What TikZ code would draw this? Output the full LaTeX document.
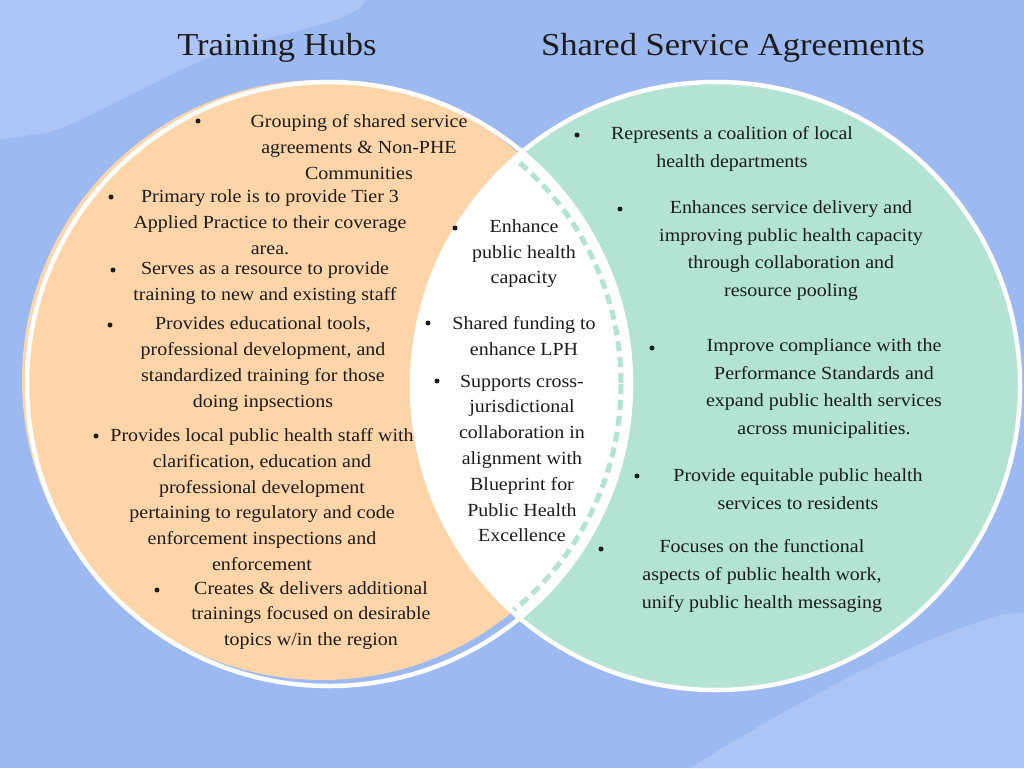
\documentclass[tikz,border=0pt]{standalone}
\usepackage{fontspec}
\setmainfont{Liberation Serif}[FakeStretch=1.08]

\definecolor{bgblue}{HTML}{9DB9F2}
\definecolor{bglight}{HTML}{ADC4F6}
\definecolor{hubfill}{HTML}{FED5A8}
\definecolor{ssafill}{HTML}{B3E3D2}
\definecolor{inktext}{HTML}{1C1C1C}

\tikzset{
  ring/.style={draw=white, line width=4.5pt},
  hubtxt/.style={align=center, text=inktext, inner sep=0pt, font=\fontsize{18.5}{25.8}\selectfont},
  ssatxt/.style={hubtxt, font=\fontsize{18.5}{27.8}\selectfont},
  dot/.style={circle, fill=inktext, inner sep=0pt, minimum size=5pt},
  heading/.style={text=inktext, inner sep=0pt, font=\fontsize{32}{38}\selectfont}
}

\begin{document}
\begin{tikzpicture}[x=1pt, y=-1pt]
    % Background
    \fill[bgblue] (0,0) rectangle (1024,768);
    \useasboundingbox (0,0) rectangle (1024,768);
    \fill[bglight] (0,0) -- (365,0) .. controls (362,18) and (300,30) .. (240,45)
        .. controls (170,70) and (100,115) .. (50,132) -- (0,140) -- cycle;
    \fill[bglight] (690,768) .. controls (800,700) and (900,645) .. (1000,615) -- (1024,612) -- (1024,768) -- cycle;

    % Circles
    \fill[ssafill] (716,386) circle (302);
    \fill[hubfill] (322,380) circle (300);
    \begin{scope}
        \clip (716,386) circle (304);
        \fill[white] (329,384) circle (302);
        \draw[ssafill, line width=5pt, dash pattern=on 10pt off 6pt] (329,384) circle (292);
    \end{scope}
    \draw[ring] (329,384) circle (302);
    \draw[ring] (716,386) circle (304);

    % Headings
    \node[heading] (hubs) at (277,48) {Training Hubs};
    \node[heading] (ssa) at (733,48) {Shared Service Agreements};

    % Training Hubs
    \node[hubtxt] (grouping) at (359,147) {Grouping of shared service\\agreements \& Non-PHE\\Communities};
    \node[dot] (grouping-dot) at (198,121) {};
    \node[hubtxt] (tier) at (270,222.3) {Primary role is to provide Tier 3\\Applied Practice to their coverage\\area.};
    \node[dot] (tier-dot) at (111,197) {};
    \node[hubtxt] (resource) at (265,283) {Serves as a resource to provide\\training to new and existing staff};
    \node[dot] (resource-dot) at (113,270) {};
    \node[hubtxt] (tools) at (263,364) {Provides educational tools,\\professional development, and\\standardized training for those\\doing inpsections};
    \node[dot] (tools-dot) at (110,325) {};
    \node[hubtxt] (staff) at (262,499.5) {Provides local public health staff with\\clarification, education and\\professional development\\pertaining to regulatory and code\\enforcement inspections and\\enforcement};
    \node[dot] (staff-dot) at (96,436) {};
    \node[hubtxt] (creates) at (311,615.5) {Creates \& delivers additional\\trainings focused on desirable\\topics w/in the region};
    \node[dot] (creates-dot) at (157,590) {};

    % Shared
    \node[hubtxt] (capacity) at (524,253.7) {Enhance\\public health\\capacity};
    \node[dot] (capacity-dot) at (455,228) {};
    \node[hubtxt] (funding) at (524,336) {Shared funding to\\enhance LPH};
    \node[dot] (funding-dot) at (428,323) {};
    \node[hubtxt] (cross) at (522,458.5) {Supports cross-\\jurisdictional\\collaboration in\\alignment with\\Blueprint for\\Public Health\\Excellence};
    \node[dot] (cross-dot) at (437,381) {};

    % Shared Service Agreements
    \node[ssatxt] (coalition) at (732,149) {Represents a coalition of local\\health departments};
    \node[dot] (coalition-dot) at (577,135) {};
    \node[ssatxt] (delivery) at (791,250.5) {Enhances service delivery and\\improving public health capacity\\through collaboration and\\resource pooling};
    \node[dot] (delivery-dot) at (620,209) {};
    \node[ssatxt] (compliance) at (824,388.5) {Improve compliance with the\\Performance Standards and\\expand public health services\\across municipalities.};
    \node[dot] (compliance-dot) at (652,348) {};
    \node[ssatxt] (equitable) at (798,489) {Provide equitable public health\\services to residents};
    \node[dot] (equitable-dot) at (637,476) {};
    \node[ssatxt] (functional) at (762,576) {Focuses on the functional\\aspects of public health work,\\unify public health messaging};
    \node[dot] (functional-dot) at (601,549) {};
\end{tikzpicture}
\end{document}
